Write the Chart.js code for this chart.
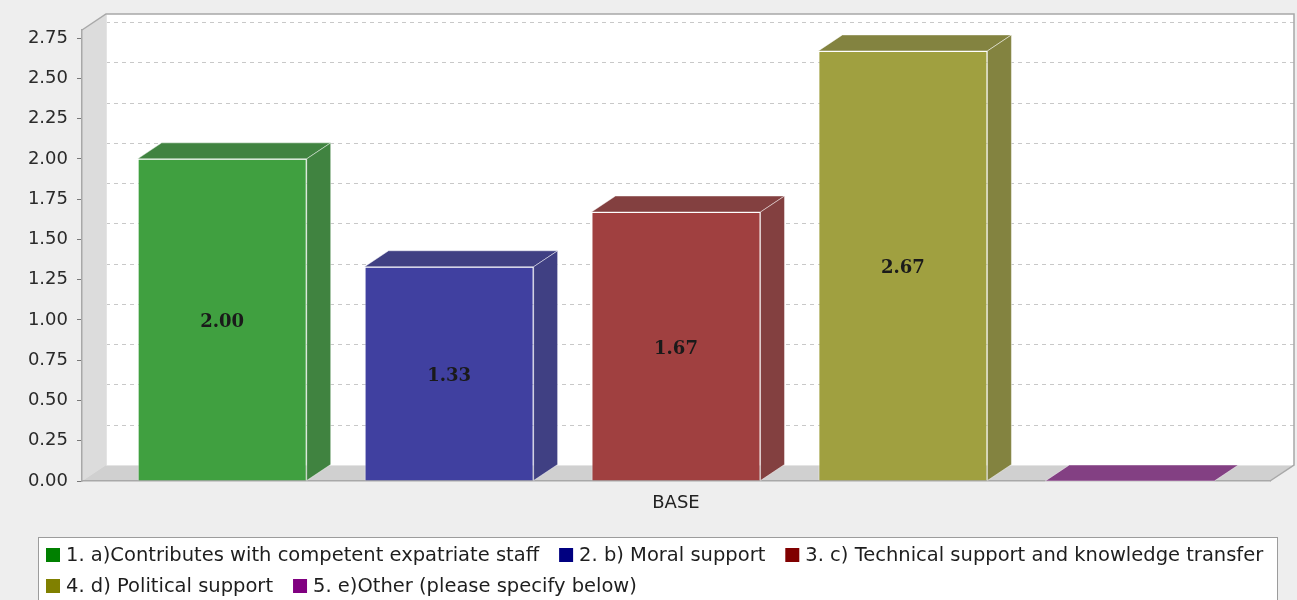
<!DOCTYPE html>
<html>
<head>
<meta charset="utf-8">
<script src="https://cdn.jsdelivr.net/npm/chart.js@4.4.1/dist/chart.umd.min.js"></script>
<style>
  html, body { margin: 0; padding: 0; background: #eeeeee; }
  canvas { display: block; }
</style>
</head>
<body>
<canvas id="chart" width="1297" height="600"></canvas>
<script>
const categories = ['BASE'];
const seriesLabels = [
    '1. a)Contributes with competent expatriate staff',
    '2. b) Moral support',
    '3. c) Technical support and knowledge transfer',
    '4. d) Political support',
    '5. e)Other (please specify below)',
];
const seriesValues = [[2.00], [1.33], [1.67], [2.67], [0]];
const seriesColors = ['#008000', '#000080', '#800000', '#808000', '#800080'];
const yMax = 2.8;
const yStep = 0.25;

// depth of the 3D box, in pixels
const DX = 24;
const DY = 16;

// colour seen through 75% foreground alpha on white, optionally darkened
function shade(hex, k) {
    const n = parseInt(hex.slice(1), 16);
    const c = [(n >> 16) & 255, (n >> 8) & 255, n & 255]
        .map((v) => Math.round(Math.floor(v * k) * 0.75 + 255 * 0.25));
    return `rgb(${c.join(',')})`;
}

const poly = (ctx, pts) => {
    ctx.beginPath();
    pts.forEach(([x, y], i) => (i ? ctx.lineTo(x, y) : ctx.moveTo(x, y)));
    ctx.closePath();
};

const boxWallsPlugin = {
    id: 'boxWalls',
    beforeDraw(chart) {
        const { ctx, chartArea: a, scales } = chart;
        const { left: l, right: r, top: t, bottom: b } = a;
        ctx.save();
        // back wall
        ctx.fillStyle = '#ffffff';
        ctx.fillRect(l + DX, t - DY, r - l, b - t);
        // left side wall
        ctx.fillStyle = '#dcdcdc';
        poly(ctx, [[l, t], [l + DX, t - DY], [l + DX, b - DY], [l, b]]);
        ctx.fill();
        // floor
        ctx.fillStyle = '#d0d0d0';
        poly(ctx, [[l, b], [l + DX, b - DY], [r + DX, b - DY], [r, b]]);
        ctx.fill();

        // dashed grid on the back wall
        ctx.strokeStyle = '#c8c8c8';
        ctx.lineWidth = 1;
        ctx.setLineDash([4, 4]);
        scales.y.ticks.forEach((tick) => {
            if (tick.value === 0) return;
            const y = Math.round(scales.y.getPixelForValue(tick.value) - DY) + 0.5;
            ctx.beginPath();
            ctx.moveTo(l + DX, y);
            ctx.lineTo(r + DX, y);
            ctx.stroke();
        });
        ctx.setLineDash([]);

        // inner edges
        ctx.strokeStyle = '#e4e4e4';
        ctx.beginPath();
        ctx.moveTo(l + DX + 0.5, t - DY);
        ctx.lineTo(l + DX + 0.5, b - DY + 0.5);
        ctx.lineTo(r + DX, b - DY + 0.5);
        ctx.stroke();

        // outer outline
        ctx.strokeStyle = '#a8a8a8';
        ctx.lineWidth = 1.5;
        ctx.beginPath();
        ctx.moveTo(l, t);
        ctx.lineTo(l + DX, t - DY);
        ctx.lineTo(r + DX, t - DY);
        ctx.lineTo(r + DX, b - DY);
        ctx.lineTo(r, b);
        ctx.stroke();
        ctx.restore();
    },
};

const bar3dPlugin = {
    id: 'bar3d',
    afterDatasetsDraw(chart) {
        const { ctx } = chart;
        ctx.save();
        ctx.lineWidth = 1;
        ctx.strokeStyle = 'rgba(255,255,255,0.45)';
        chart.data.datasets.forEach((ds, i) => {
            const meta = chart.getDatasetMeta(i);
            meta.data.forEach((bar) => {
                const { x, y, base, width } = bar.getProps(['x', 'y', 'base', 'width'], true);
                const x0 = x - width / 2;
                const x1 = x + width / 2;
                ctx.fillStyle = ds.sideColor;
                // top face
                poly(ctx, [[x0, y], [x1, y], [x1 + DX, y - DY], [x0 + DX, y - DY]]);
                ctx.fill();
                ctx.stroke();
                // right face
                if (base - y > 0.5) {
                    poly(ctx, [[x1, y], [x1 + DX, y - DY], [x1 + DX, base - DY], [x1, base]]);
                    ctx.fill();
                    ctx.stroke();
                }
            });
        });
        ctx.restore();
    },
};

const valueLabelsPlugin = {
    id: 'valueLabels',
    afterDatasetsDraw(chart) {
        const { ctx } = chart;
        ctx.save();
        ctx.font = "bold 18px 'DejaVu Serif'";
        ctx.fillStyle = '#1a1a1a';
        ctx.textAlign = 'center';
        ctx.textBaseline = 'middle';
        chart.data.datasets.forEach((ds, i) => {
            chart.getDatasetMeta(i).data.forEach((bar, j) => {
                const v = ds.data[j];
                if (!v) return;
                const { x, y, base } = bar.getProps(['x', 'y', 'base'], true);
                ctx.fillText(v.toFixed(2), x, (y + base) / 2 + 3);
            });
        });
        ctx.restore();
    },
};

const legendBoxPlugin = {
    id: 'legendBox',
    afterDraw(chart) {
        const { ctx } = chart;
        const left = 38;
        const top = 537;
        const right = 1277;
        ctx.save();
        ctx.fillStyle = '#ffffff';
        ctx.fillRect(left, top, right - left, 80);
        ctx.strokeStyle = '#9c9c9c';
        ctx.lineWidth = 1;
        ctx.strokeRect(left + 0.5, top + 0.5, right - left, 80);

        ctx.font = "19.5px 'DejaVu Sans'";
        ctx.textBaseline = 'middle';
        let x = left + 8;
        let row = 0;
        seriesLabels.forEach((label, i) => {
            const w = 20 + ctx.measureText(label).width;
            if (x + w > right - 6) {
                row += 1;
                x = left + 8;
            }
            const cy = 555 + row * 31;
            ctx.fillStyle = seriesColors[i];
            ctx.fillRect(x, cy - 7, 14, 14);
            ctx.fillStyle = '#1e1e1e';
            ctx.fillText(label, x + 20, cy + 1);
            x += w + 20;
        });
        ctx.restore();
    },
};

new Chart(document.getElementById('chart'), {
    type: 'bar',
    data: {
        labels: categories,
        datasets: seriesLabels.map((label, i) => ({
            label,
            data: seriesValues[i],
            backgroundColor: shade(seriesColors[i], 1),
            sideColor: shade(seriesColors[i], 0.7),
            borderColor: 'rgba(255,255,255,0.45)',
            borderWidth: 1,
            categoryPercentage: 0.955,
            barPercentage: 0.745,
        })),
    },
    options: {
        responsive: false,
        animation: false,
        events: [],
        layout: { padding: { top: 30, right: 27, left: 0, bottom: 0 } },
        scales: {
            x: {
                afterFit(axis) { axis.height = 119; },
                grid: { display: false, drawTicks: false },
                border: { display: true, color: '#a8a8a8', width: 1.5 },
                ticks: { padding: 12, color: '#222', font: { family: 'DejaVu Sans', size: 18 } },
            },
            y: {
                min: 0,
                max: yMax,
                afterFit(axis) { axis.width = 82; },
                border: { display: true, color: '#a8a8a8', width: 1.5 },
                grid: { drawOnChartArea: false, drawTicks: true, tickLength: 5, color: '#777' },
                ticks: {
                    stepSize: yStep,
                    includeBounds: false,
                    padding: 9,
                    color: '#2a2a2a',
                    font: { family: 'DejaVu Sans', size: 18 },
                    callback: (v) => v.toFixed(2),
                },
            },
        },
        plugins: {
            legend: { display: false },
            tooltip: { enabled: false },
        },
    },
    plugins: [boxWallsPlugin, bar3dPlugin, valueLabelsPlugin, legendBoxPlugin],
});
</script>
</body>
</html>
